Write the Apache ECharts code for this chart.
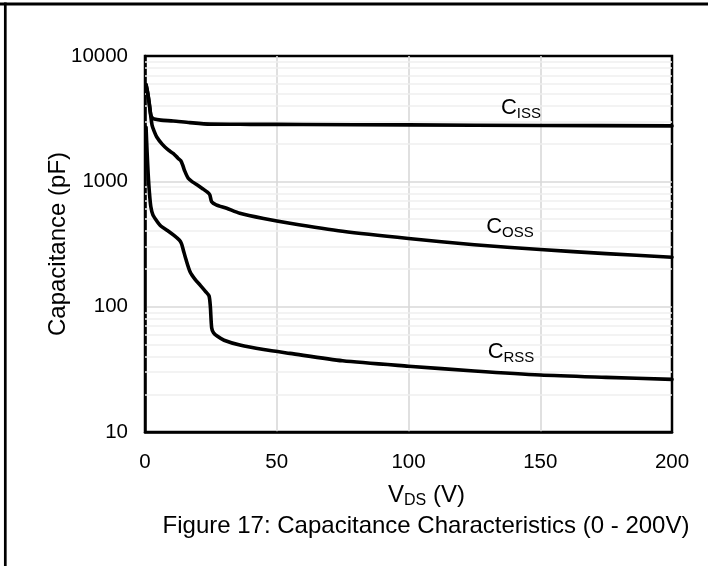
<!DOCTYPE html>
<html><head><meta charset="utf-8">
<script src="https://cdn.jsdelivr.net/npm/echarts@6/dist/echarts.min.js"></script>
<style>html,body{margin:0;padding:0;background:#fff}#c{width:708px;height:566px}</style>
</head><body><div id="c"></div>
<script>
// ---- data ----
const xTicks = [0, 50, 100, 150, 200];
const yTicks = [10, 100, 1000, 10000];
const cissV = [0.4, 1, 1.6, 2.2, 2.7, 3.5, 6, 10.7, 17, 24.7, 40, 60, 100, 150, 200];
const cissC = [5900, 5100, 4200, 3400, 3220, 3140, 3080, 3030, 2940, 2860, 2850, 2840, 2820, 2790, 2770];
const cossV = [0.4, 1, 1.6, 2.2, 2.7, 3.5, 4.4, 6.5, 8.8, 10.7, 12.5, 13.6, 14.3, 15, 16.4, 18, 20, 22, 23.8, 24.6, 25.3, 27, 31, 36, 45, 55, 75, 100, 125, 150, 175, 200];
const cossC = [5900, 5100, 4200, 3300, 2800, 2500, 2270, 1980, 1780, 1670, 1530, 1460, 1350, 1220, 1057, 990, 930, 870, 815, 780, 687, 650, 610, 556, 505, 463, 400, 350, 312, 286, 265, 248];
const crssV = [0.4, 0.8, 1.2, 1.7, 2.2, 3, 4.4, 6, 8.5, 11, 13, 13.8, 14.5, 15.5, 17.1, 19, 21, 23, 24.3, 24.8, 25.3, 26, 27.5, 30, 36, 45, 55, 75, 100, 125, 150, 175, 200];
const crssC = [2700, 1700, 1150, 800, 630, 540, 485, 440, 405, 370, 340, 320, 285, 240, 190, 165, 148, 132, 122, 100, 68, 62, 58, 54, 49.4, 45.5, 42.4, 37, 33.5, 30.7, 28.5, 27.3, 26.3];
const seriesNames = ['ISS', 'OSS', 'RSS'];
const minorGridValues = [20,30,40,50,60,70,80,90,200,300,400,500,600,700,800,900,2000,3000,4000,5000,6000,7000,8000,9000];
const xTitle = ['V', 'DS', ' (V)'];
const yTitle = 'Capacitance (pF)';
const caption = 'Figure 17: Capacitance Characteristics (0 - 200V)';

const FONT = '"Liberation Sans", Arial, sans-serif';
const pairs = (xs, ys) => xs.map((x, i) => [x, ys[i]]);
const curveLabelRich = {
  c: { fontSize: 22, fontFamily: FONT, color: '#000' },
  s: { fontSize: 15, fontFamily: FONT, color: '#000', padding: [12, 0, 0, 0] }
};
function curve(name, data, labelCoord) {
  return {
    type: 'line', name: 'C' + name, data: data, showSymbol: false, symbol: 'none',
    smooth: 0.25, z: 5,
    lineStyle: { color: '#000', width: 3.6, cap: 'round', join: 'round' },
    markPoint: {
      silent: true, symbol: 'circle', symbolSize: 0,
      itemStyle: { color: 'rgba(0,0,0,0)' },
      label: { show: true, position: 'inside', formatter: '{c|C}{s|' + name + '}', rich: curveLabelRich },
      data: [{ coord: labelCoord }]
    }
  };
}

const chart = echarts.init(document.getElementById('c'), null, { renderer: 'canvas' });
chart.setOption({
  animation: false,
  backgroundColor: '#fff',
  grid: { left: 145, right: 36, top: 56, bottom: 134, show: true, borderColor: '#000', borderWidth: 2.5, backgroundColor: 'rgba(0,0,0,0)' },
  xAxis: {
    type: 'value', min: xTicks[0], max: xTicks[xTicks.length - 1], interval: xTicks[1] - xTicks[0],
    axisLine: { show: true, lineStyle: { color: '#000', width: 2.5 } },
    axisTick: { show: false },
    axisLabel: { fontSize: 20.5, fontFamily: FONT, color: '#000', margin: 20 },
    splitLine: { show: true, showMinLine: false, showMaxLine: false, lineStyle: { color: '#d9d9d9', width: 1.6 } },
    name: '{v|' + xTitle[0] + '}{s|' + xTitle[1] + '}{v|' + xTitle[2] + '}',
    nameLocation: 'middle', nameGap: 49, nameMoveOverlap: false,
    nameTextStyle: {
      padding: [0, 0, 0, 36],
      rich: {
        v: { fontSize: 24, fontFamily: FONT, color: '#000' },
        s: { fontSize: 16, fontFamily: FONT, color: '#000', padding: [12, 0, 0, 0] }
      }
    }
  },
  yAxis: {
    type: 'log', logBase: 10, min: yTicks[0], max: yTicks[yTicks.length - 1],
    axisLine: { show: true, lineStyle: { color: '#000', width: 2.5 } },
    axisTick: { show: false },
    axisLabel: { fontSize: 20.5, fontFamily: FONT, color: '#000', margin: 17, padding: [4, 0, 0, 0], formatter: v => String(v) },
    splitLine: { show: true, showMinLine: false, showMaxLine: false, lineStyle: { color: '#d9d9d9', width: 1.6 } },
    name: yTitle, nameLocation: 'middle', nameGap: 75, nameMoveOverlap: false,
    nameTextStyle: { fontSize: 24, fontFamily: FONT, color: '#000' }
  },
  graphic: [
    { type: 'line', shape: { x1: 0, y1: 4, x2: 708, y2: 4 }, style: { stroke: '#000', lineWidth: 3 }, silent: true },
    { type: 'line', shape: { x1: 5.3, y1: 2.5, x2: 5.3, y2: 566 }, style: { stroke: '#000', lineWidth: 2.7 }, silent: true },
    { type: 'text', x: 426, y: 526, silent: true,
      style: { text: caption, fontSize: 24, fontFamily: FONT, fill: '#000', align: 'center', verticalAlign: 'middle' } }
  ],
  series: [
    {
      type: 'line', data: [], silent: true, z: 1,
      markLine: {
        silent: true, symbol: 'none', label: { show: false },
        lineStyle: { color: '#efefef', type: 'solid', width: 1.6 },
        data: minorGridValues.map(v => ({ yAxis: v }))
      }
    },
    curve(seriesNames[0], pairs(cissV, cissC), [142.7, 3850]),
    curve(seriesNames[1], pairs(cossV, cossC), [138.5, 432]),
    curve(seriesNames[2], pairs(crssV, crssC), [138.9, 43.4])
  ]
});
</script></body></html>
